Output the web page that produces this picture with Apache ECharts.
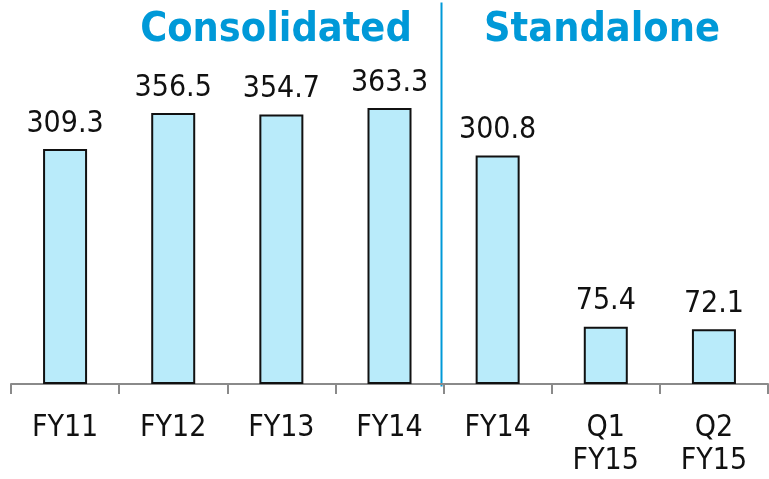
<!DOCTYPE html>
<html>
<head>
<meta charset="utf-8">
<script src="https://cdn.jsdelivr.net/npm/echarts@6/dist/echarts.min.js"></script>
<style>
  html, body { margin: 0; padding: 0; background: #fff; }
  #chart { width: 769px; height: 479px; }
</style>
</head>
<body>
<div id="chart"></div>
<script>
const categories = ["FY11", "FY12", "FY13", "FY14", "FY14", "Q1\nFY15", "Q2\nFY15"];
const values = [309.3, 356.5, 354.7, 363.3, 300.8, 75.4, 72.1];
const sectionTitles = ["Consolidated", "Standalone"];

const fontFamily = "'DejaVu Sans Condensed', 'DejaVu Sans', sans-serif";
const blue = "#0099d8";

const chart = echarts.init(document.getElementById("chart"));

chart.setOption({
  animation: false,
  title: [
    {
      text: sectionTitles[0],
      left: 271,
      top: 5,
      textAlign: "center",
      textStyle: { color: blue, fontSize: 41, fontWeight: "bold", fontFamily }
    },
    {
      text: sectionTitles[1],
      left: 597,
      top: 5,
      textAlign: "center",
      textStyle: { color: blue, fontSize: 41, fontWeight: "bold", fontFamily }
    }
  ],
  grid: {
    left: 11,
    right: 1,
    top: 4,
    bottom: 95
  },
  xAxis: {
    type: "category",
    data: categories,
    axisLine: {
      show: true,
      lineStyle: { color: "#8a8a8a", width: 2 }
    },
    axisTick: {
      show: true,
      alignWithLabel: false,
      length: 10,
      lineStyle: { color: "#8a8a8a", width: 2 }
    },
    axisLabel: {
      color: "#111",
      fontSize: 30,
      fontFamily,
      margin: 28,
      lineHeight: 33,
      interval: 0
    }
  },
  yAxis: {
    type: "value",
    min: 0,
    max: 500,
    show: false
  },
  graphic: [
    {
      type: "line",
      left: 439,
      top: 0,
      shape: { x1: 0, y1: 0, x2: 0, y2: 384 },
      style: { stroke: blue, lineWidth: 2 }
    }
  ],
  series: [
    {
      type: "bar",
      data: values,
      barWidth: 44,
      itemStyle: {
        color: "#b9ebfa",
        borderColor: "#111",
        borderWidth: 2
      },
      label: {
        show: true,
        position: "top",
        distance: 10,
        color: "#111",
        fontSize: 30,
        fontFamily
      }
    }
  ]
});
</script>
</body>
</html>
